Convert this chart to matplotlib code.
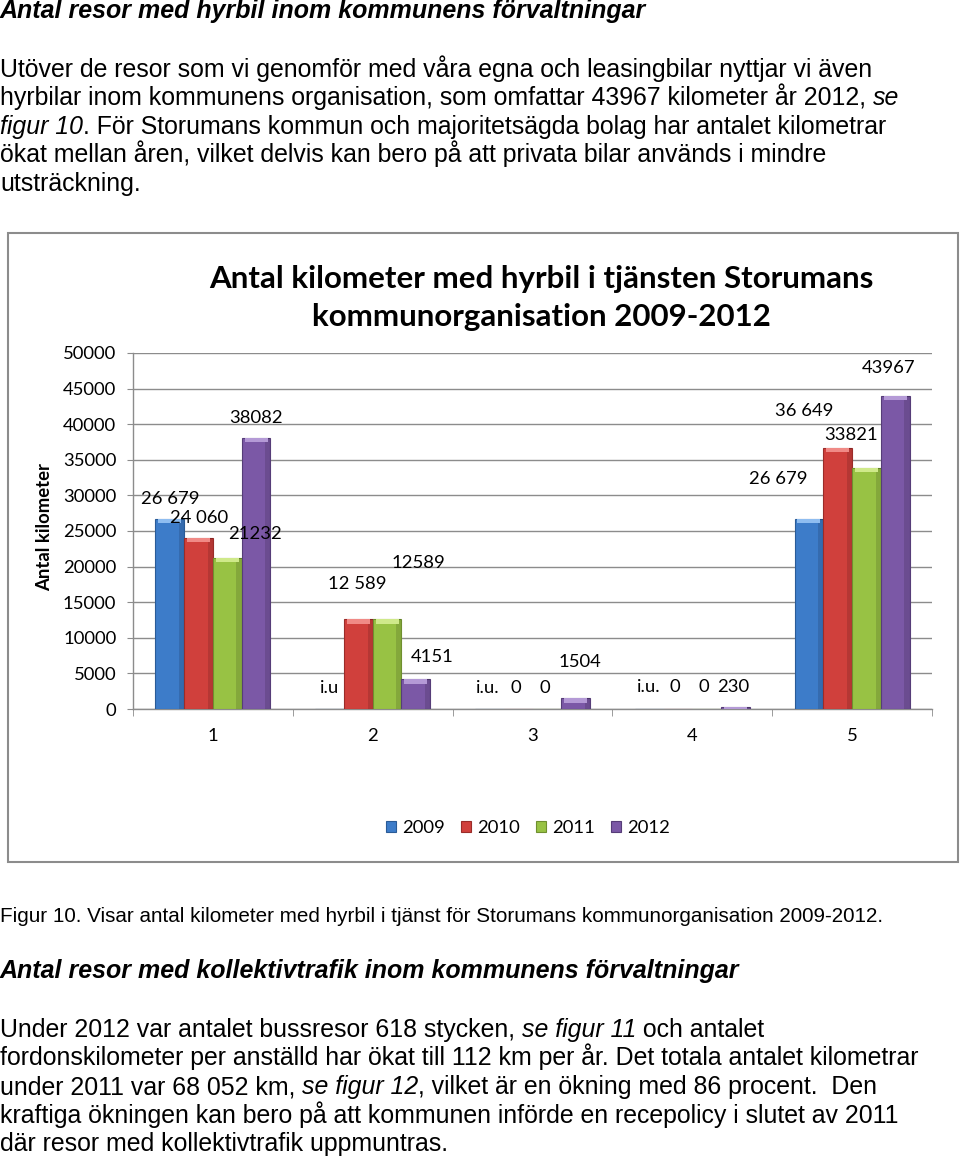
import matplotlib
matplotlib.use("Agg")
import matplotlib.pyplot as plt
from matplotlib.patches import Rectangle
from matplotlib.ticker import FixedLocator

# chart data
categories = [1, 2, 3, 4, 5]
years = ["2009", "2010", "2011", "2012"]
km_2009 = [26679, 0, 0, 0, 26679]
km_2010 = [24060, 12589, 0, 0, 36649]
km_2011 = [21232, 12589, 0, 0, 33821]
km_2012 = [38082, 4151, 1504, 230, 43967]
lab_2009 = ["26 679", "i.u", "i.u.", "i.u.", "26 679"]
lab_2010 = ["24 060", "12 589", "0", "0", "36 649"]
lab_2011 = ["21232", "12589", "0", "0", "33821"]
lab_2012 = ["38082", "4151", "1504", "230", "43967"]
yticks = [0, 5000, 10000, 15000, 20000, 25000, 30000, 35000, 40000, 45000, 50000]

chart_title = "Antal kilometer med hyrbil i tjänsten Storumans\nkommunorganisation 2009-2012"
y_title = "Antal kilometer"

# where the data labels sit, relative to the bar top (pixels)
off_2009 = [(0, 20), (0, 21), (-2, 21), (0, 22), (-31, 40)]
off_2010 = [(1, 20), (-1, 35), (-2, 21), (-3, 22), (-34, 37)]
off_2011 = [(28, 24), (31, 56), (-2, 21), (-3, 22), (-15, 33)]
off_2012 = [(0, 20), (16, 22), (4, 36), (-2, 20), (-7, 28)]

colors = ["#3d7cc9", "#d0403c", "#98c244", "#7b58a6"]
edges = ["#2a5b97", "#9a2c29", "#6f8f2f", "#563d78"]
tops = ["#8fbdf0", "#f08a86", "#cfe98a", "#b49ad6"]

W, H = 960, 1160
DOC = "Liberation Sans"
CH = "Lato"

fig = plt.figure(figsize=(9.6, 11.6), dpi=100)
renderer = fig.canvas.get_renderer()


def text_width(s, **kw):
    t = fig.text(0, 0, s, **kw)
    w = t.get_window_extent(renderer).width
    t.remove()
    return w


def rich_line(x, base, parts, size, weight="normal"):
    for s, style in parts:
        kw = dict(fontsize=size, family=DOC, style=style, weight=weight)
        fig.text(x / W, 1 - base / H, s, va="baseline", ha="left", **kw)
        x += text_width("|" + s + "|", **kw) - text_width("||", **kw)


N, I = "normal", "italic"

# text above the chart
rich_line(0, 18, [("Antal resor med hyrbil inom kommunens förvaltningar", I)], 18, "bold")
para1 = [
    [("Utöver de resor som vi genomför med våra egna och leasingbilar nyttjar vi även", N)],
    [("hyrbilar inom kommunens organisation, som omfattar 43967 kilometer år 2012, ", N), ("se", I)],
    [("figur 10", I), (". För Storumans kommun och majoritetsägda bolag har antalet kilometrar", N)],
    [("ökat mellan åren, vilket delvis kan bero på att privata bilar används i mindre", N)],
    [("utsträckning.", N)],
]
for k, parts in enumerate(para1):
    rich_line(0, 77 + k * 28.4, parts, 17.9)

# chart frame
fig.patches.append(Rectangle((8 / W, 1 - 862 / H), 950 / W, 629 / H, transform=fig.transFigure,
                             fill=False, edgecolor="#8c8c8c", linewidth=1.5))

ax = fig.add_axes([133 / W, 1 - 709 / H, 799 / W, 356 / H])
w = 0.18
series = [km_2009, km_2010, km_2011, km_2012]
labels = [lab_2009, lab_2010, lab_2011, lab_2012]
offsets = [off_2009, off_2010, off_2011, off_2012]
cap = 600  # height of the light bevel at the bar top, in data units
for i in range(4):
    xs = [c + (i - 1.5) * w for c in categories]
    bars = ax.bar(xs, series[i], width=w, color=colors[i], edgecolor=edges[i], linewidth=0.8,
                  label=years[i], zorder=3)
    # simple bevel: dark right side, light top band
    for p in bars:
        bx, bh, bw = p.get_x(), p.get_height(), p.get_width()
        if bh <= 0:
            continue
        ax.add_patch(Rectangle((bx + bw * 0.82, 0), bw * 0.18, bh, color="black",
                               alpha=0.13, linewidth=0, zorder=4))
        ax.add_patch(Rectangle((bx + bw * 0.1, bh - min(cap, bh)), bw * 0.8, min(cap, bh),
                               color=tops[i], linewidth=0, zorder=4))
    for x, v, lab, (dx, dy) in zip(xs, series[i], labels[i], offsets[i]):
        ax.annotate(lab, xy=(x, v), xytext=(dx, dy), textcoords="offset pixels",
                    ha="center", va="center", fontsize=13.3, family=CH, color="black",
                    zorder=6)

ax.set_xlim(0.5, 5.5)
ax.set_ylim(0, 50000)
ax.set_yticks(yticks)
ax.set_yticklabels([str(t) for t in yticks], fontsize=13.3, family=CH)
ax.set_xticks(categories)
ax.set_xticklabels([str(c) for c in categories], fontsize=13.3, family=CH)
ax.xaxis.set_minor_locator(FixedLocator([0.5, 1.5, 2.5, 3.5, 4.5, 5.5]))
ax.tick_params(axis="x", which="major", length=0, pad=14)
ax.tick_params(axis="x", which="minor", length=5, color="#8c8c8c", direction="out")
ax.tick_params(axis="y", length=4, color="#8c8c8c", pad=8)
ax.grid(axis="y", color="#8c8c8c", linewidth=1, zorder=0)
ax.set_axisbelow(True)
for s in ["top", "right"]:
    ax.spines[s].set_visible(False)
for s in ["left", "bottom"]:
    ax.spines[s].set_color("#8c8c8c")
    ax.spines[s].set_linewidth(1)

fig.text(541 / W, 1 - 298 / H, chart_title, ha="center", va="center", fontsize=22.5,
         family=CH, weight="bold", linespacing=1.45)
fig.text(45 / W, 1 - 527 / H, y_title, rotation=90, ha="center", va="center",
         fontsize=13.3, family=CH, weight="bold")

handles, names = ax.get_legend_handles_labels()
fig.legend(handles, names, loc="center", bbox_to_anchor=(528 / W, 1 - 828 / H), ncol=4,
           frameon=False, prop={"family": CH, "size": 13.3}, handlelength=0.55,
           handleheight=0.55, handletextpad=0.35, columnspacing=0.85)

# text below the chart
rich_line(0, 922, [("Figur 10. Visar antal kilometer med hyrbil i tjänst för Storumans kommunorganisation 2009-2012.", N)], 14.9)
rich_line(0, 978, [("Antal resor med kollektivtrafik inom kommunens förvaltningar", I)], 18, "bold")
para2 = [
    [("Under 2012 var antalet bussresor 618 stycken, ", N), ("se figur 11", I), (" och antalet", N)],
    [("fordonskilometer per anställd har ökat till 112 km per år. Det totala antalet kilometrar", N)],
    [("under 2011 var 68 052 km, ", N), ("se figur 12", I), (", vilket är en ökning med 86 procent.  Den", N)],
    [("kraftiga ökningen kan bero på att kommunen införde en recepolicy i slutet av 2011", N)],
    [("där resor med kollektivtrafik uppmuntras.", N)],
]
for k, parts in enumerate(para2):
    rich_line(0, 1037 + k * 28.5, parts, 17.9)

fig.savefig("out.png", dpi=100)
